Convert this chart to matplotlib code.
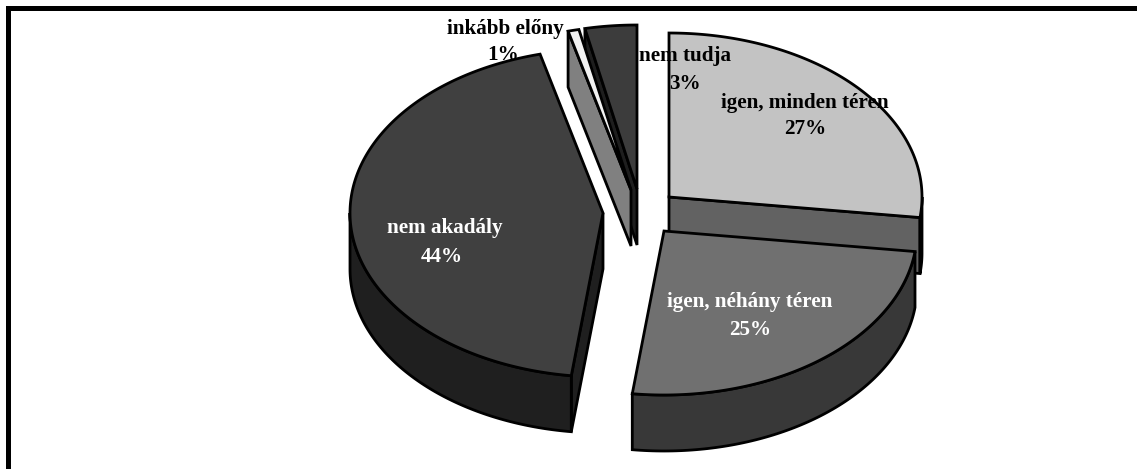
import numpy as np
import matplotlib
matplotlib.use('Agg')
from matplotlib import pyplot as plt
from matplotlib.patches import Polygon

labels = ['igen, minden téren', 'igen, néhány téren', 'nem akadály', 'inkább előny', 'nem tudja']
percent_labels = ['27%', '25%', '44%', '1%', '3%']
values = [27, 25, 44, 0.7, 3.3]

# pixel layout of the exploded slices
centers = [(669, 197), (664, 231), (603, 213), (631, 190), (637, 189)]
top_colors = ['#c3c3c3', '#707070', '#404040', '#f2f2f2', '#3c3c3c']
wall_colors = ['#626262', '#383838', '#1f1f1f', '#808080', '#1e1e1e']
outer_colors = ['#303030', '#383838', '#1f1f1f', '#808080', '#1e1e1e']
# which cut face of each slice can be seen: 'start', 'end' or None
visible_cut = ['end', None, 'start', 'start', 'start']
text_colors = ['black', 'white', 'white', 'black', 'black']
text_pos = [(805, 103), (750, 302), (445, 228), (505, 29), (685, 56.5)]
percent_pos = [(805, 129), (750, 330), (442, 257), (503, 55), (685, 84)]
draw_order = [4, 3, 2, 0, 1]

RX = 253
RY = 164
DEPTH = 56
LW = 2.0
FONT_SIZE = 15.2


def rim(center, theta):
    t = np.radians(theta)
    return center[0] + RX * np.sin(t), center[1] - RY * np.cos(t)


def add_poly(ax, xs, ys, color):
    ax.add_patch(Polygon(np.column_stack([xs, ys]), closed=True, facecolor=color,
                         edgecolor='black', linewidth=LW, joinstyle='miter'))


fig = plt.figure(figsize=(11.37, 4.69), dpi=100)
ax = fig.add_axes([0, 0, 1, 1])
ax.set_xlim(0, 1137)
ax.set_ylim(469, 0)
ax.axis('off')

# frame: only the top and left edges show
ax.plot([7.5, 7.5, 1137], [469, 8.5, 8.5], color='black', linewidth=3.6,
        solid_joinstyle='miter', solid_capstyle='butt')

edges = np.concatenate([[0], np.cumsum(values)]) / sum(values) * 360

for i in draw_order:
    c = centers[i]
    start, end = edges[i], edges[i + 1]

    if visible_cut[i]:
        angle = start if visible_cut[i] == 'start' else end
        sx, sy = rim(c, angle)
        add_poly(ax, [c[0], sx, sx, c[0]], [c[1], sy, sy + DEPTH, c[1] + DEPTH], wall_colors[i])

    # outer wall, lower half of the ellipse only
    lo, hi = max(start, 90), min(end, 270)
    if hi > lo:
        th = np.linspace(lo, hi, 100)
        x, y = rim(c, th)
        add_poly(ax, np.concatenate([x, x[::-1]]), np.concatenate([y, (y + DEPTH)[::-1]]), outer_colors[i])

    # top face
    th = np.linspace(start, end, 200)
    x, y = rim(c, th)
    add_poly(ax, np.concatenate([[c[0]], x]), np.concatenate([[c[1]], y]), top_colors[i])

for i in range(len(labels)):
    ax.text(text_pos[i][0], text_pos[i][1], labels[i], color=text_colors[i], ha='center', va='center',
            family='Liberation Serif', fontweight='bold', fontsize=FONT_SIZE, zorder=5)
    ax.text(percent_pos[i][0], percent_pos[i][1], percent_labels[i], color=text_colors[i], ha='center',
            va='center', family='Liberation Serif', fontweight='bold', fontsize=FONT_SIZE, zorder=5)

fig.savefig('out.png', dpi=100)
